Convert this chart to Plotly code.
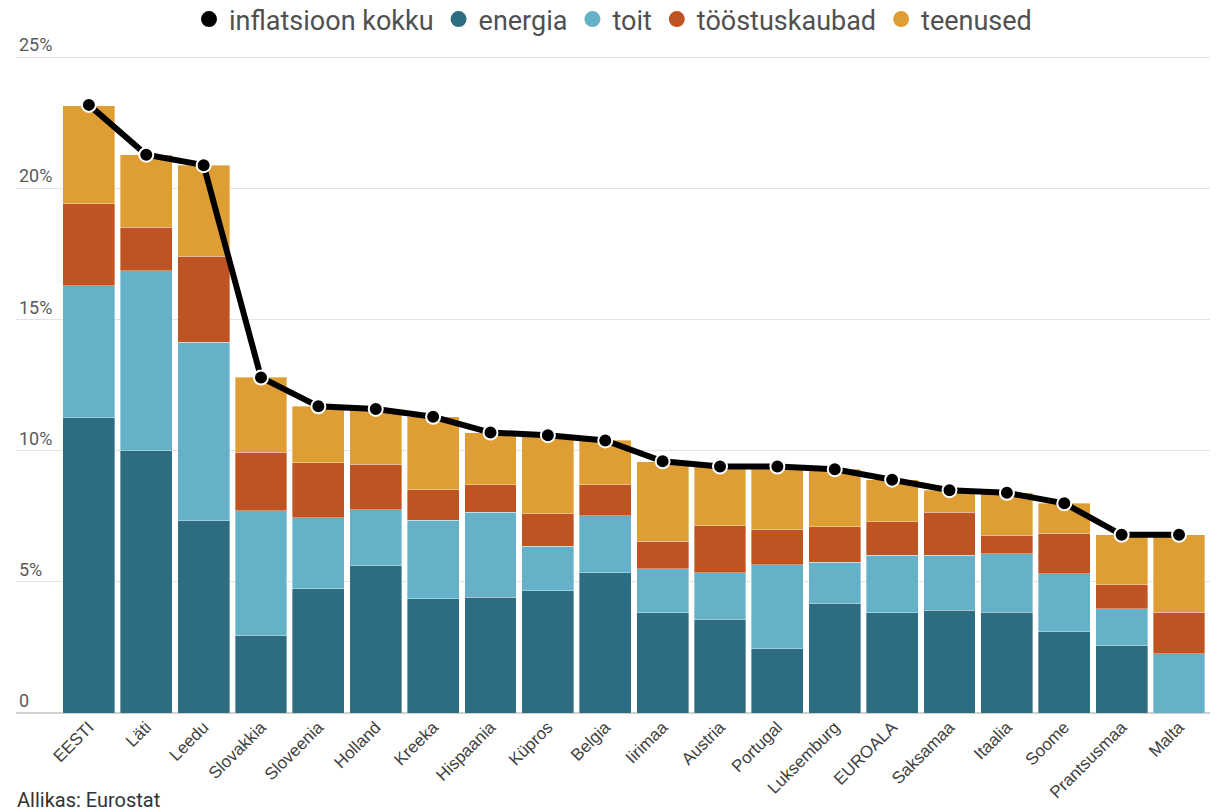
import plotly.graph_objects as go

countries = ["EESTI", "Läti", "Leedu", "Slovakkia", "Sloveenia", "Holland", "Kreeka",
             "Hispaania", "Küpros", "Belgia", "Iirimaa", "Austria", "Portugal",
             "Luksemburg", "EUROALA", "Saksamaa", "Itaalia", "Soome", "Prantsusmaa", "Malta"]
energia = [11.26, 10.00, 7.33, 2.95, 4.74, 5.61, 4.35, 4.42, 4.66, 5.36,
           3.82, 3.55, 2.45, 4.16, 3.83, 3.92, 3.85, 3.10, 2.57, 0.00]
toit = [5.04, 6.87, 6.82, 4.76, 2.71, 2.15, 3.00, 3.24, 1.70, 2.16,
        1.69, 1.80, 3.21, 1.60, 2.19, 2.10, 2.22, 2.21, 1.40, 2.26]
toostuskaubad = [3.13, 1.67, 3.28, 2.23, 2.10, 1.73, 1.16, 1.04, 1.25, 1.18,
                 1.05, 1.80, 1.35, 1.34, 1.28, 1.63, 0.72, 1.55, 0.93, 1.59]
teenused = [3.74, 2.75, 3.46, 2.86, 2.15, 2.10, 2.80, 2.00, 2.97, 1.71,
            3.03, 2.25, 2.39, 2.20, 1.59, 0.85, 1.62, 1.14, 1.91, 2.96]
kokku = [23.2, 21.3, 20.9, 12.8, 11.7, 11.6, 11.3, 10.7, 10.6, 10.4,
         9.6, 9.4, 9.4, 9.3, 8.9, 8.5, 8.4, 8.0, 6.8, 6.8]

series = [
    ("energia", energia, "#2E6C81"),
    ("toit", toit, "#64B1C8"),
    ("tööstuskaubad", toostuskaubad, "#BF5321"),
    ("teenused", teenused, "#DE9E33"),
]
ytick_vals = [0, 5, 10, 15, 20, 25]
ytick_text = ["0", "5%", "10%", "15%", "20%", "25%"]

T = 21
B = 99
YMAX = 26.4

fig = go.Figure()

# legend entries (circle symbols)
fig.add_trace(go.Scatter(x=[None], y=[None], mode="markers", name="inflatsioon kokku",
                         marker=dict(color="black", size=24, symbol="circle")))
for name, vals, col in series:
    fig.add_trace(go.Scatter(x=[None], y=[None], mode="markers", name=name,
                             marker=dict(color=col, size=24, symbol="circle")))

for name, vals, col in series:
    fig.add_trace(go.Bar(x=countries, y=vals, name=name, showlegend=False,
                         marker=dict(color=col, line=dict(color="rgba(255,255,255,0.6)", width=0.6))))

fig.add_trace(go.Scatter(x=countries, y=kokku, mode="lines+markers", showlegend=False,
                         line=dict(color="black", width=6),
                         marker=dict(color="black", size=14, line=dict(color="white", width=2))))

ph = 812 - T - B
fig.update_layout(
    width=1218, height=812,
    barmode="stack", bargap=0.095,
    paper_bgcolor="white", plot_bgcolor="white",
    margin=dict(l=16, r=8, t=T, b=B, autoexpand=False),
    font=dict(family="Roboto, sans-serif", color="#333333"),
    showlegend=True,
    legend=dict(orientation="h", x=0.5, xanchor="center", y=1 + (T + 5) / ph, yanchor="top",
                yref="paper", font=dict(size=27, color="#505050"), bgcolor="rgba(0,0,0,0)",
                traceorder="normal", itemsizing="trace", itemwidth=30, tracegroupgap=0),
    xaxis=dict(type="category", range=[-1.27, 19.54], tickangle=-45, automargin=False,
               tickfont=dict(size=17, color="#404040", family="Liberation Sans, Arial, sans-serif"),
               showgrid=False, showline=False, ticks=""),
    yaxis=dict(range=[0, YMAX], tickvals=ytick_vals, ticktext=ytick_text, automargin=False,
               ticklabelposition="inside top", tickfont=dict(size=18, color="#5A5A5A"),
               showgrid=True, gridcolor="#E2E2E2", gridwidth=1,
               zeroline=True, zerolinecolor="#D0D0D0", zerolinewidth=1.5,
               showline=False, ticks=""),
    annotations=[dict(text="Allikas: Eurostat", xref="paper", yref="paper",
                      x=-0.001, y=-73 / ph, xanchor="left", yanchor="top", showarrow=False,
                      font=dict(size=20, color="#333333"))],
)

fig.write_html("out.html", config={"displayModeBar": False},
               post_script="document.body.style.margin='0';document.body.style.overflow='hidden';")
